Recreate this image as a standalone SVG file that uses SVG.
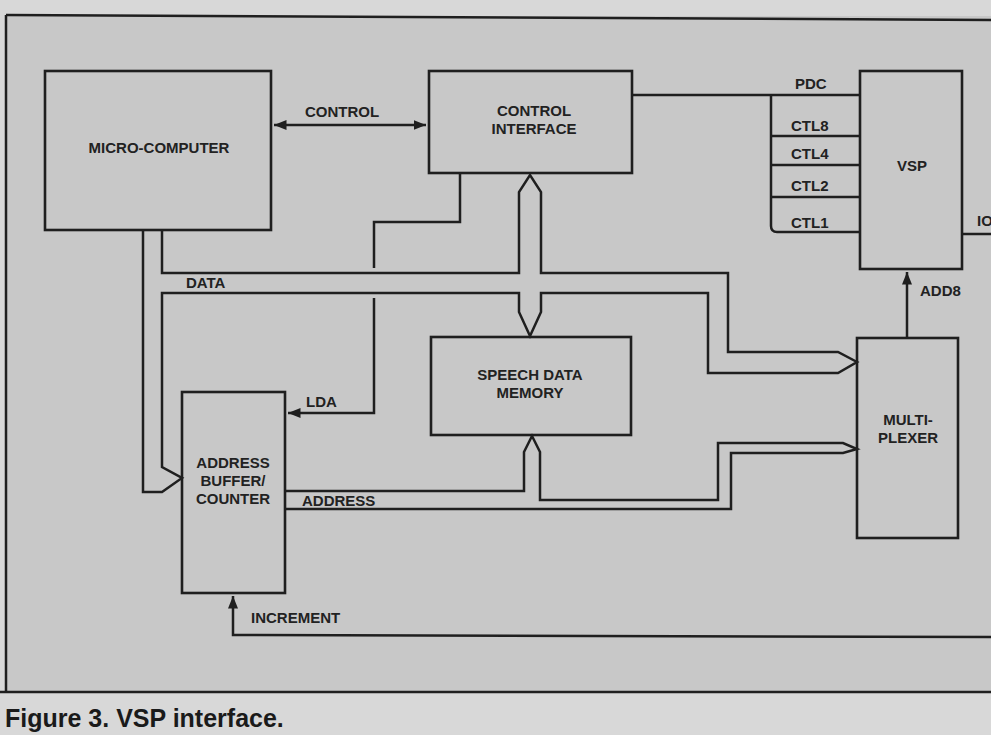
<svg xmlns="http://www.w3.org/2000/svg" width="991" height="735" viewBox="0 0 991 735">
<style>
.bg{fill:#c8c8c8}
.box{fill:none;stroke:#1f1f1f;stroke-width:2.6}
.ln{fill:none;stroke:#1f1f1f;stroke-width:2.5;stroke-linejoin:miter;stroke-linecap:butt}
.t{font-family:"Liberation Sans",Arial,sans-serif;font-weight:bold;font-size:15px;fill:#222}
.c{text-anchor:middle}
.cap{font-family:"Liberation Sans",Arial,sans-serif;font-weight:bold;font-size:25px;fill:#1a1a1a}
</style>
<defs>
<marker id="ah" viewBox="0 0 10 10" refX="10" refY="5" markerWidth="5" markerHeight="5" orient="auto-start-reverse" markerUnits="strokeWidth">
<path d="M0,1 L10,5 L0,9 z" fill="#1f1f1f"/>
</marker>
</defs>
<rect x="0" y="0" width="991" height="735" fill="#d8d8d8"/>
<rect x="6" y="16" width="985" height="676" class="bg"/>
<g id="frame">
<path class="ln" d="M6,15 L991,20"/>
<path class="ln" d="M6,15 V692"/>
<path class="ln" d="M0,692 H991"/>
</g>
<g id="micro-computer">
<rect class="box" x="45" y="71" width="226" height="159"/>
<text class="t c" x="159" y="153">MICRO-COMPUTER</text>
</g>
<g id="control-interface">
<rect class="box" x="429" y="71" width="203" height="102"/>
<text class="t c" x="534" y="116">CONTROL</text>
<text class="t c" x="534" y="134">INTERFACE</text>
</g>
<g id="vsp">
<rect class="box" x="860" y="71" width="102" height="198"/>
<text class="t c" x="912" y="171">VSP</text>
</g>
<g id="speech-data-memory">
<rect class="box" x="431" y="337" width="200" height="98"/>
<text class="t c" x="530" y="380">SPEECH DATA</text>
<text class="t c" x="530" y="398">MEMORY</text>
</g>
<g id="multiplexer">
<rect class="box" x="857" y="338" width="101" height="200"/>
<text class="t c" x="908" y="425">MULTI-</text>
<text class="t c" x="908" y="443">PLEXER</text>
</g>
<g id="address-buffer-counter">
<rect class="box" x="182" y="392" width="103" height="201"/>
<text class="t c" x="233" y="468">ADDRESS</text>
<text class="t c" x="233" y="486">BUFFER/</text>
<text class="t c" x="233" y="504">COUNTER</text>
</g>
<g id="connectors">
<path class="ln" d="M274,125 H426" marker-start="url(#ah)" marker-end="url(#ah)"/>
<path class="ln" d="M632,95 H860"/>
<path class="ln" d="M771,95 V226 Q771,232 777,232 H860"/>
<path class="ln" d="M771,136 H860"/>
<path class="ln" d="M771,165 H860"/>
<path class="ln" d="M771,197 H860"/>
<path class="ln" d="M962,234 H991"/>
<path class="ln" d="M907,338 V272" marker-end="url(#ah)"/>
<path class="ln" d="M460,173 V222 H374 V268"/>
<path class="ln" d="M374,298 V413 H288" marker-end="url(#ah)"/>
<path class="ln" d="M991,637 L233,635 V596" marker-end="url(#ah)"/>
<path class="ln" d="M143,230 V492 H162 L182,478 L162,467 V293 H519 V312 L530,336 L541,312 V293 H708 V373 H838 L857,362 L838,352 H728 V273 H541 V192 L530,175 L519,192 V273 H162 V230"/>
<path class="ln" d="M285,491 H524 V452 L532,436 L540,452 V500 H718 V443 H843 L857,449 L843,453 H731 V509 H285"/>
</g>
<g id="labels">
<text class="t" x="305" y="117">CONTROL</text>
<text class="t" x="795" y="89">PDC</text>
<text class="t" x="791" y="131">CTL8</text>
<text class="t" x="791" y="159">CTL4</text>
<text class="t" x="791" y="191">CTL2</text>
<text class="t" x="791" y="228">CTL1</text>
<text class="t" x="977" y="226">IO</text>
<text class="t" x="920" y="296">ADD8</text>
<text class="t" x="186" y="288">DATA</text>
<text class="t" x="306" y="407">LDA</text>
<text class="t" x="302" y="506">ADDRESS</text>
<text class="t" x="251" y="623">INCREMENT</text>
</g>
<text class="cap" x="5" y="727">Figure 3. VSP interface.</text>
</svg>
